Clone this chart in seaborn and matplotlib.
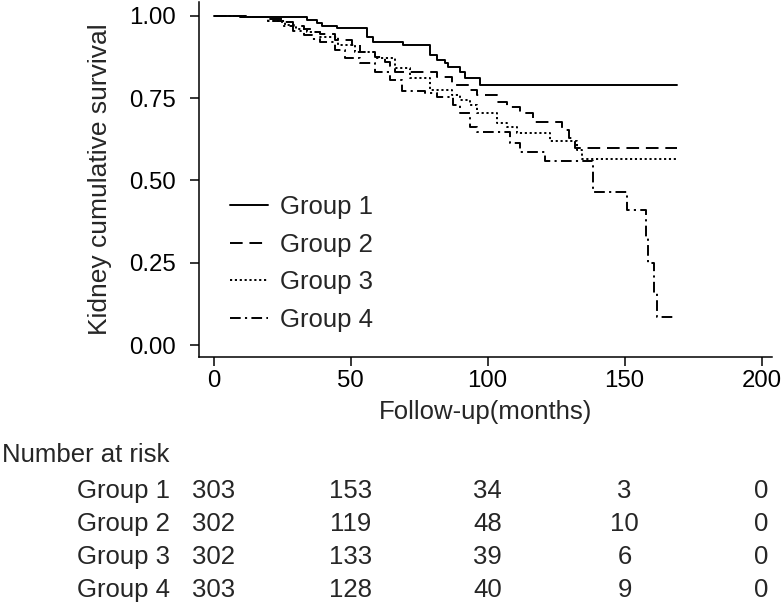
import pandas as pd
import matplotlib
matplotlib.use("Agg")
import matplotlib.pyplot as plt
import matplotlib.transforms as mtransforms
import seaborn as sns

# Kaplan-Meier step curves (months, survival)
g1_t = [0, 9.7, 18.8, 34, 37.8, 39.5, 45, 55.9, 58.2, 69.2, 79, 81.6, 84.5, 85.6, 90, 91.8, 97.3, 169]
g1_s = [1.0, 0.997, 0.995, 0.987, 0.977, 0.969, 0.962, 0.936, 0.921, 0.911, 0.881, 0.866, 0.855, 0.845,
        0.830, 0.810, 0.790, 0.790]

g2_t = [0, 10, 19, 25, 29, 33, 36, 38.9, 44.3, 50.5, 53.5, 59, 62.6, 64.4, 66.2, 81.6, 87, 93.6, 96.2,
        103.5, 107, 111.9, 116.6, 127, 129.7, 131.9, 169]
g2_s = [1.0, 0.997, 0.99, 0.98, 0.97, 0.96, 0.95, 0.944, 0.926, 0.911, 0.890, 0.875, 0.859, 0.847, 0.829,
        0.815, 0.790, 0.774, 0.759, 0.739, 0.724, 0.705, 0.678, 0.653, 0.629, 0.598, 0.598]

g3_t = [0, 12, 20, 26, 30, 34, 38.9, 45.4, 51.6, 59, 66.2, 71.7, 79, 87, 90, 93.6, 96.2, 103.5, 107,
        110.8, 122.8, 132.7, 134.5, 169]
g3_s = [1.0, 0.995, 0.985, 0.972, 0.96, 0.95, 0.935, 0.911, 0.890, 0.872, 0.841, 0.811, 0.774, 0.759,
        0.744, 0.729, 0.705, 0.674, 0.662, 0.644, 0.620, 0.592, 0.564, 0.564]

g4_t = [0, 12, 20, 25, 29, 33, 36, 38.9, 44.3, 48, 53.5, 59, 64.4, 68.8, 77.2, 81.6, 87.4, 90, 93.6,
        96.2, 108.2, 111.9, 121, 138.5, 150.9, 157.8, 158.6, 160.8, 161.8, 168.4]
g4_s = [1.0, 0.995, 0.985, 0.97, 0.955, 0.94, 0.93, 0.92, 0.896, 0.872, 0.856, 0.829, 0.805, 0.771,
        0.765, 0.753, 0.729, 0.705, 0.662, 0.648, 0.613, 0.587, 0.559, 0.466, 0.410, 0.329, 0.249,
        0.158, 0.086, 0.086]

groups = ["Group 1", "Group 2", "Group 3", "Group 4"]

# number at risk table
risk_times = [0, 50, 100, 150, 200]
risk_g1 = [303, 153, 34, 3, 0]
risk_g2 = [302, 119, 48, 10, 0]
risk_g3 = [302, 133, 39, 6, 0]
risk_g4 = [303, 128, 40, 9, 0]

x_ticks = [0, 50, 100, 150, 200]
y_ticks = [0.0, 0.25, 0.5, 0.75, 1.0]

frames = []
for name, t, s in zip(groups, [g1_t, g2_t, g3_t, g4_t], [g1_s, g2_s, g3_s, g4_s]):
    frames.append(pd.DataFrame({"months": t, "surv": s, "group": name}))
df = pd.concat(frames, ignore_index=True)

sns.set_style("ticks")
plt.rcParams["font.family"] = ["Liberation Sans", "DejaVu Sans"]

fig = plt.figure(figsize=(7.83, 6.10), dpi=100)
ax = fig.add_axes([199 / 783, 1 - 357 / 610, (772 - 199) / 783, (357 - 2) / 610])

dash_map = {
    "Group 1": "",
    "Group 2": (6.5, 3.5),
    "Group 3": (1.1, 1.4),
    "Group 4": (5.5, 2.2, 1.1, 2.2),
}
sns.lineplot(data=df, x="months", y="surv", hue="group", style="group",
             palette=["black"] * 4, dashes=dash_map, drawstyle="steps-post",
             estimator=None, sort=False, linewidth=1.4, ax=ax, legend=True)

ax.set_xlim(-5.3, 203.8)
ax.set_ylim(-0.0364, 1.0416)
ax.set_xticks(x_ticks)
ax.set_yticks(y_ticks)
ax.set_yticklabels([f"{v:.2f}" for v in y_ticks])
ax.tick_params(axis="both", direction="out", length=6.5, width=1.1, colors="black",
               labelsize=17.3)
ax.tick_params(axis="y", pad=10.5)
ax.tick_params(axis="x", pad=3)
for side in ["top", "right"]:
    ax.spines[side].set_visible(False)
for side in ["left", "bottom"]:
    ax.spines[side].set_linewidth(1.1)
    ax.spines[side].set_color("black")

ax.set_ylabel("Kidney cumulative survival", fontsize=19, labelpad=12)
ax.set_xlabel("")
fig.text(485.5 / 783, 1 - 412 / 610, "Follow-up(months)", fontsize=18.5, ha="center", va="center")

handles, labels = ax.get_legend_handles_labels()
ax.legend(handles, labels, loc="upper left", bbox_to_anchor=(230 / 783, 1 - 195 / 610),
          bbox_transform=fig.transFigure, frameon=False, fontsize=18.5, handlelength=1.48,
          handletextpad=0.47, labelspacing=0.53, borderpad=0, borderaxespad=0)

# number at risk below the axes
trans = mtransforms.blended_transform_factory(ax.transData, fig.transFigure)
fig.text(2 / 783, 1 - 455 / 610, "Number at risk", fontsize=18.5, ha="left", va="center")
row_y = [491, 524, 557, 590]
for name, counts, py in zip(groups, [risk_g1, risk_g2, risk_g3, risk_g4], row_y):
    fig.text(170 / 783, 1 - py / 610, name, fontsize=18.5, ha="right", va="center")
    for t, c in zip(risk_times, counts):
        ax.text(t, 1 - py / 610, str(c), transform=trans, fontsize=18.5, ha="center", va="center",
                clip_on=False)

fig.savefig("out.png", dpi=100, facecolor="white")
